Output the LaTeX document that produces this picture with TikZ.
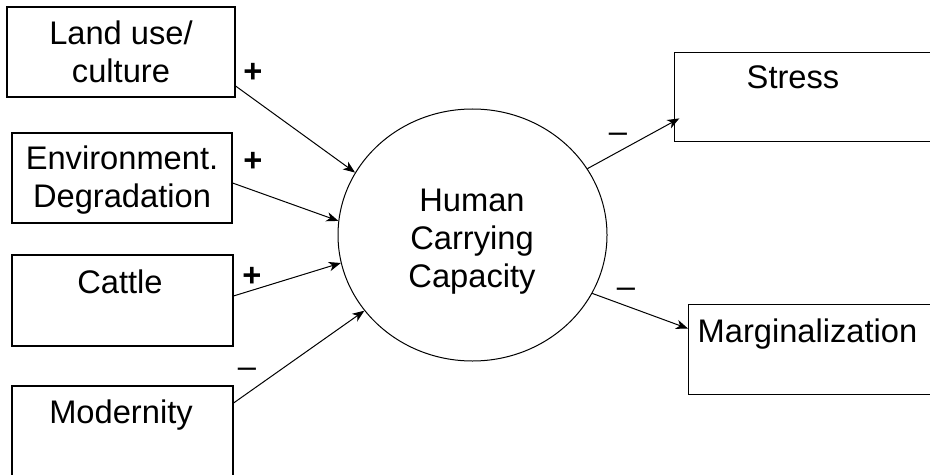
\documentclass[tikz,border=0pt]{standalone}
\usepackage{fontspec}
\setmainfont{Liberation Sans}
\usetikzlibrary{arrows.meta,shapes.geometric}

\tikzset{
  factor/.style={draw, line width=0.85pt, inner sep=0pt},
  hub/.style={draw, ellipse, line width=0.75pt, inner sep=0pt,
    minimum width=201.75pt, minimum height=189pt},
  txt/.style={font=\fontsize{24.5}{28.5}\selectfont, align=center,
    inner sep=0pt, anchor=base},
  sign/.style={font=\fontsize{24.5}{28.5}\selectfont, inner sep=0pt},
  link/.style={-{Stealth[length=9pt,width=7pt,inset=2.6pt]}, line width=0.75pt}
}

\begin{document}
\begin{tikzpicture}[x=0.75pt,y=-0.75pt]
\useasboundingbox (0,0) rectangle (930,474);

\node[factor, minimum width=171pt, minimum height=67.5pt] (land) at (121,52) {};
\node[factor, minimum width=165pt, minimum height=67.5pt] (envdeg) at (122,178) {};
\node[factor, minimum width=165.75pt, minimum height=68.25pt] (cattle) at (122.5,300.5) {};
\node[factor, minimum width=165.75pt, minimum height=67.5pt] (modern) at (122.5,431) {};
\node[factor, anchor=north west, minimum width=225pt, minimum height=66.75pt] (stress) at (674,52) {};
\node[factor, anchor=north west, minimum width=225pt, minimum height=67.5pt] (margin) at (688,304) {};
\node[hub] (hcc) at (472.5,235) {};

\node[txt] (landtxt) at (121,83) {Land use/\\culture};
\node[txt] (envtxt) at (122,207) {Environment.\\Degradation};
\node[txt] (cattletxt) at (120,293) {Cattle};
\node[txt] (moderntxt) at (121,423) {Modernity};
\node[txt] (hcctxt) at (472,287) {Human\\Carrying\\Capacity};
\node[txt] (stresstxt) at (793,89) {Stress};
\node[txt] (margintxt) at (807.5,342) {Marginalization};

\draw[link] ([yshift=-25.5pt]land.east) -- (hcc.152.5);
\draw[link] ([yshift=-3.75pt]envdeg.east) -- (hcc.174);
\draw[link] ([yshift=3.4pt]cattle.east) -- (hcc.192.4);
\draw[link] ([yshift=21pt]modern.east) -- (hcc.215);
\draw[link] (hcc.30) -- ([xshift=4pt,yshift=-16pt]stress.west);
\draw[link] (hcc.-26) -- ([yshift=15.75pt]margin.west);

\node[sign] (plusland) at (253,73) {\textbf{+}};
\node[sign] (plusenv) at (253,162) {\textbf{+}};
\node[sign] (pluscattle) at (252,277) {\textbf{+}};
\node[sign] (minmodern) at (247,373) {–};
\node[sign] (minstress) at (618,138) {–};
\node[sign] (minmargin) at (626,293) {–};
\end{tikzpicture}
\end{document}
